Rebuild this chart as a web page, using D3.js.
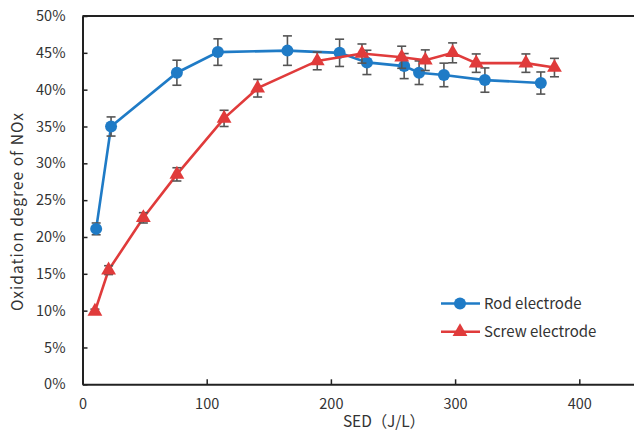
<!DOCTYPE html>
<html>
<head>
<meta charset="utf-8">
<script src="https://cdn.jsdelivr.net/npm/d3@7"></script>
<style>
  html, body { margin: 0; padding: 0; background: #fff; }
  svg { display: block; }
  text { font-family: "Noto Sans CJK SC", "Noto Sans", sans-serif; fill: #333; }
</style>
</head>
<body>
<svg id="chart" width="634" height="430"></svg>
<script>
// SED (J/L) and NOx oxidation degree (%) with error half-widths
const rodSED   = [11, 23, 76, 109, 165, 207, 229, 259, 271, 291, 324, 369];
const rodOx    = [21.1, 35.0, 42.3, 45.1, 45.3, 45.0, 43.7, 43.2, 42.3, 42.0, 41.3, 40.9];
const rodErr   = [0.8, 1.3, 1.7, 1.8, 2.0, 1.85, 1.65, 1.7, 1.6, 1.6, 1.65, 1.5];

const screwSED = [10, 21, 49, 76, 114, 141, 189, 225, 257, 276, 298, 317, 357, 380];
const screwOx  = [9.9, 15.5, 22.6, 28.5, 36.1, 40.2, 43.9, 44.9, 44.4, 44.0, 45.0, 43.6, 43.6, 43.0];
const screwErr = [0.3, 0.6, 0.7, 0.9, 1.1, 1.2, 1.2, 1.3, 1.5, 1.4, 1.35, 1.25, 1.25, 1.25];

const xTicks = [0, 100, 200, 300, 400];
const yTicks = [0, 5, 10, 15, 20, 25, 30, 35, 40, 45, 50];

const seriesNames = ["Rod electrode", "Screw electrode"];
const seriesColors = ["#1f7bc6", "#e03b3b"];

const svg = d3.select("#chart");
const plotLeft = 82.5, plotTop = 16, plotBottom = 384.3;
const x = d3.scaleLinear().domain([0, 450]).range([plotLeft, plotLeft + 450 * 1.242]);
const y = d3.scaleLinear().domain([0, 50]).range([plotBottom, plotTop]);

// plot frame (top edge)
svg.append("line")
  .attr("x1", plotLeft).attr("x2", 634).attr("y1", plotTop).attr("y2", plotTop)
  .attr("stroke", "#222").attr("stroke-width", 2);

// x axis, ticks pointing inward
const xAxis = svg.append("g").attr("transform", `translate(0,${plotBottom})`)
  .call(d3.axisBottom(x).tickValues(xTicks).tickSizeInner(-5).tickSizeOuter(0).tickPadding(14));
xAxis.select(".domain").attr("stroke", "#222").attr("stroke-width", 2);
xAxis.selectAll(".tick line").attr("stroke", "#222").attr("stroke-width", 1.5);
xAxis.selectAll("text").attr("font-size", 14.5).attr("fill", "#333");

// y axis, ticks pointing inward
const yAxis = svg.append("g").attr("transform", `translate(${plotLeft},0)`)
  .call(d3.axisLeft(y).tickValues(yTicks).tickFormat(d => d + "%").tickSizeInner(-5).tickSizeOuter(0).tickPadding(17));
yAxis.select(".domain").attr("stroke", "#222").attr("stroke-width", 2);
yAxis.selectAll(".tick line").attr("stroke", "#222").attr("stroke-width", 1.5);
yAxis.selectAll("text").attr("font-size", 14.5).attr("fill", "#333");

svg.selectAll(".tick text").style("font-family", '"Noto Sans CJK SC", "Noto Sans", sans-serif');

// axis titles
svg.append("text")
  .attr("x", 384).attr("y", 427)
  .attr("text-anchor", "middle").attr("font-size", 15.5)
  .attr("textLength", 82).attr("lengthAdjust", "spacing")
  .text("SED（J/L）");
svg.append("text")
  .attr("transform", "translate(23,212) rotate(-90)")
  .attr("text-anchor", "middle").attr("font-size", 15.5)
  .attr("textLength", 198).attr("lengthAdjust", "spacing")
  .text("Oxidation degree of NOx");

const series = [
  { sed: rodSED, ox: rodOx, err: rodErr, color: seriesColors[0], shape: "circle" },
  { sed: screwSED, ox: screwOx, err: screwErr, color: seriesColors[1], shape: "triangle" }
];

const line = d3.line().x(d => x(d.sed)).y(d => y(d.ox));
const triangle = d3.symbol().type(d3.symbolTriangle).size(95);

function drawMarker(g, shape, color, cx, cy) {
  if (shape === "circle") {
    g.append("circle").attr("cx", cx).attr("cy", cy).attr("r", 6).attr("fill", color);
  } else {
    g.append("path").attr("d", triangle()).attr("transform", `translate(${cx},${cy})`).attr("fill", color);
  }
}

series.forEach(s => {
  const pts = s.sed.map((v, i) => ({ sed: v, ox: s.ox[i], err: s.err[i] }));
  const g = svg.append("g");
  g.append("path").datum(pts).attr("d", line)
    .attr("fill", "none").attr("stroke", s.color).attr("stroke-width", 2.6);
  // error bars
  const eb = g.append("g").attr("stroke", "#555").attr("stroke-width", 1.6);
  pts.forEach(p => {
    const cx = x(p.sed), y1 = y(p.ox + p.err), y2 = y(p.ox - p.err);
    eb.append("line").attr("x1", cx).attr("x2", cx).attr("y1", y1).attr("y2", y2);
    eb.append("line").attr("x1", cx - 4.5).attr("x2", cx + 4.5).attr("y1", y1).attr("y2", y1);
    eb.append("line").attr("x1", cx - 4.5).attr("x2", cx + 4.5).attr("y1", y2).attr("y2", y2);
  });
  pts.forEach(p => drawMarker(g, s.shape, s.color, x(p.sed), y(p.ox)));
});

// legend
const legend = svg.append("g");
seriesNames.forEach((name, i) => {
  const ly = 303.5 + i * 28.3;
  legend.append("line").attr("x1", 441).attr("x2", 480).attr("y1", ly).attr("y2", ly)
    .attr("stroke", seriesColors[i]).attr("stroke-width", 2.6);
  drawMarker(legend, series[i].shape, seriesColors[i], 460, ly);
  legend.append("text").attr("x", 484).attr("y", ly + 5.5)
    .attr("font-size", 15).text(name);
});
</script>
</body>
</html>
